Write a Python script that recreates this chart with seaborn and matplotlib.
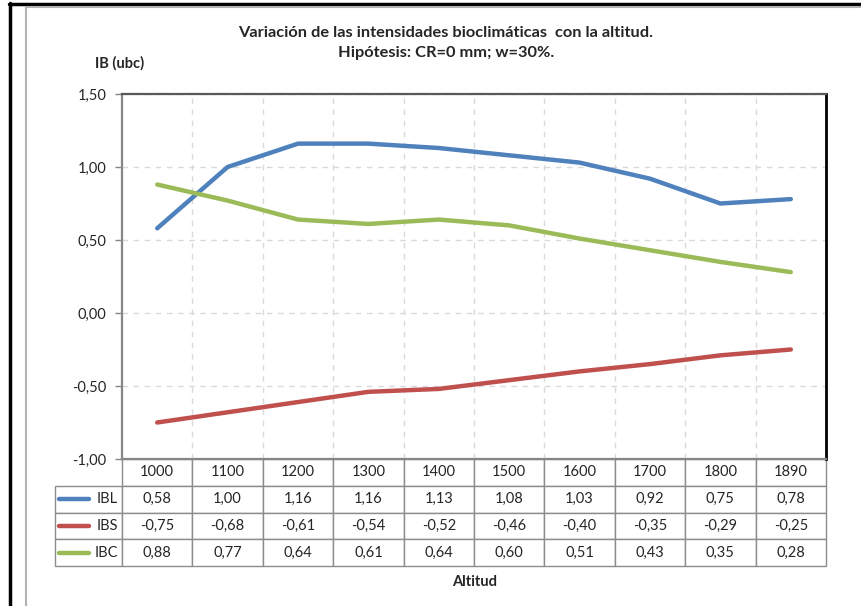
import matplotlib
matplotlib.use("Agg")
import matplotlib.pyplot as plt
import seaborn as sns
import numpy as np
import pandas as pd
from matplotlib.lines import Line2D
from matplotlib.table import Table

# datos
altitudes = ['1000', '1100', '1200', '1300', '1400', '1500', '1600', '1700', '1800', '1890']
ibl = [0.58, 1.00, 1.16, 1.16, 1.13, 1.08, 1.03, 0.92, 0.75, 0.78]
ibs = [-0.75, -0.68, -0.61, -0.54, -0.52, -0.46, -0.40, -0.35, -0.29, -0.25]
ibc = [0.88, 0.77, 0.64, 0.61, 0.64, 0.60, 0.51, 0.43, 0.35, 0.28]
series = ['IBL', 'IBS', 'IBC']
colores = {'IBL': '#4F81BD', 'IBS': '#C0504D', 'IBC': '#9BBB59'}
y_ticks = [-1.0, -0.5, 0.0, 0.5, 1.0, 1.5]

titulo_1 = "Variación de las intensidades bioclimáticas  con la altitud."
titulo_2 = "Hipótesis: CR=0 mm; w=30%."


def set_style():
	sns.set_style("white")
	plt.rcParams['font.family'] = ['Lato', 'DejaVu Sans']


def fmt(v):
	return f"{v:.2f}".replace('.', ',')


def make_plot():
	W, H = 861, 606
	fig = plt.figure(figsize=(W / 100, H / 100), dpi=100)
	ax = fig.add_axes([122 / W, 1 - 459 / H, 704 / W, 365 / H])

	valores = {'IBL': ibl, 'IBS': ibs, 'IBC': ibc}
	df = pd.DataFrame({
		'pos': np.tile(np.arange(len(altitudes)), len(series)),
		'valor': ibl + ibs + ibc,
		'serie': np.repeat(series, len(altitudes)),
	})
	sns.lineplot(data=df, x='pos', y='valor', hue='serie', palette=colores,
				 linewidth=3.2, legend=False, sort=False, ax=ax)
	for l in ax.lines:
		l.set_solid_capstyle('round')

	n = len(altitudes)
	ax.set_xlim(-0.5, n - 0.5)
	ax.set_ylim(y_ticks[0], y_ticks[-1])
	ax.set_xticks([])
	ax.set_xticks(np.arange(0.5, n - 0.5, 1), minor=True)
	ax.set_yticks(y_ticks)
	ax.set_yticklabels([fmt(v) for v in y_ticks], fontsize=10.5)
	ax.tick_params(axis='y', which='major', left=True, direction='out',
				   length=5, width=1, color='#868686', pad=6)
	ax.tick_params(axis='x', which='minor', length=0)
	ax.grid(which='minor', axis='x', ls=(0, (4, 4)), color='#d9d9d9', lw=1)
	ax.grid(which='major', axis='y', ls=(0, (4, 4)), color='#d9d9d9', lw=1)
	ax.set_xlabel('')
	ax.set_ylabel('')

	for s in ['left', 'bottom']:
		ax.spines[s].set_color('#868686')
		ax.spines[s].set_linewidth(1.6)
	ax.spines['top'].set_color('#595959')
	ax.spines['top'].set_linewidth(1.6)
	ax.spines['right'].set_color('black')
	ax.spines['right'].set_linewidth(2)

	# tabla de datos bajo el eje (columna 0 = etiquetas de serie)
	tabla = Table(ax, bbox=[-67 / 704, -107 / 365, 771 / 704, 107 / 365])
	lab_w = 67 / 70.4
	for c, a in enumerate(altitudes, start=1):
		tabla.add_cell(0, c, width=1, height=1, text=a, loc='center')
	for r, s in enumerate(series, start=1):
		tabla.add_cell(r, 0, width=lab_w, height=1, text=s, loc='right')
		for c, v in enumerate(valores[s], start=1):
			tabla.add_cell(r, c, width=1, height=1, text=fmt(v), loc='center')
	tabla.auto_set_font_size(False)
	tabla.set_fontsize(10.5)
	for cell in tabla.get_celld().values():
		cell.set_edgecolor('#8c8c8c')
		cell.set_linewidth(1)
		cell.PAD = 0.06
	ax.add_table(tabla)

	# claves de la leyenda dentro de la tabla
	row_h = 107 / 4
	for r, s in enumerate(series, start=1):
		yc = -(row_h * (r + 0.5)) / 365
		ax.add_line(Line2D([-63 / 704, -33 / 704], [yc, yc], transform=ax.transAxes,
						   color=colores[s], lw=3.2, solid_capstyle='round', clip_on=False))

	fig.text(446 / W, 1 - 33 / H, titulo_1, ha='center', va='center',
			 fontsize=11.8, fontweight='bold')
	fig.text(446 / W, 1 - 53 / H, titulo_2, ha='center', va='center',
			 fontsize=11.8, fontweight='bold')
	fig.text(120 / W, 1 - 63 / H, 'IB (ubc)', ha='center', va='center',
			 fontsize=10.5, fontweight='bold')
	fig.text(475 / W, 1 - 582 / H, 'Altitud', ha='center', va='center',
			 fontsize=10.5, fontweight='bold')

	# marcos exteriores
	fig.add_artist(Line2D([10 / W, 10 / W], [0, 1 - 3 / H], color='black', lw=2.5,
						  transform=fig.transFigure))
	fig.add_artist(Line2D([9 / W, 1], [1 - 4 / H, 1 - 4 / H], color='black', lw=2.5,
						  transform=fig.transFigure))
	fig.add_artist(Line2D([26 / W, 26 / W], [0, 1 - 6.5 / H], color='#b3b3b3', lw=1.5,
						  transform=fig.transFigure))
	fig.add_artist(Line2D([26 / W, 1], [1 - 6.5 / H, 1 - 6.5 / H], color='#b3b3b3', lw=1.5,
						  transform=fig.transFigure))

	fig.savefig('out.png', dpi=100)
	plt.close(fig)


if __name__ == '__main__':
	set_style()
	make_plot()
